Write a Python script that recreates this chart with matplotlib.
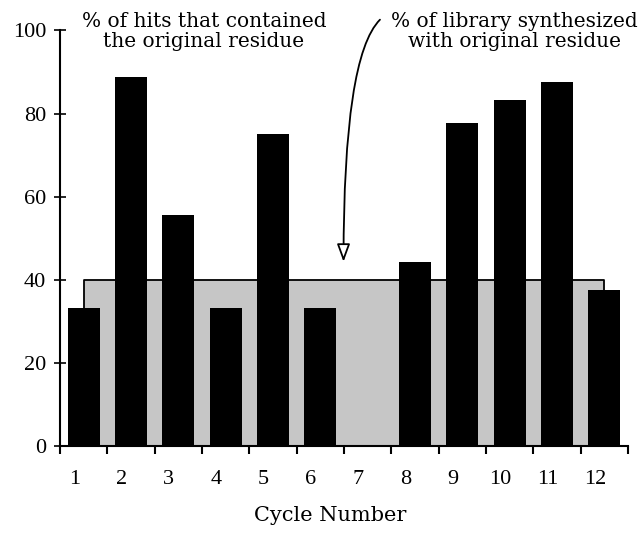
import numpy as np
import matplotlib
matplotlib.use('Agg')
import matplotlib.pyplot as plt

# percent of hits containing the original residue, per cycle (no data for cycle 7)
cycles = [1, 2, 3, 4, 5, 6, 8, 9, 10, 11, 12]
hit_pct = [33.3, 88.9, 55.6, 33.3, 75.0, 33.3, 44.4, 77.8, 83.3, 87.5, 37.5]

# percent of library synthesized with the original residue
lib_cycles = [1, 12]
lib_pct = [40, 40]

cycle_labels = [str(c) for c in range(1, 13)]
y_ticks = [0, 20, 40, 60, 80, 100]

tick_font = ['Liberation Serif', 'DejaVu Serif']
text_font = ['DejaVu Serif']

fig = plt.figure(figsize=(6.4, 5.33), dpi=100)
ax = fig.add_axes([0.09375, 0.1623, 0.8875, 0.7805])

ax.fill_between(lib_cycles, 0, lib_pct, facecolor='#c6c6c6', edgecolor='black',
                linewidth=1.3, zorder=1)
ax.bar(cycles, hit_pct, width=0.68, color='black', zorder=2)

ax.set_xlim(0.5, 12.5)
ax.set_ylim(0, 100)

for side in ['top', 'right']:
    ax.spines[side].set_visible(False)
for side in ['left', 'bottom']:
    ax.spines[side].set_linewidth(1.5)

# tick marks on bin boundaries, labels under each bin
ax.set_xticks(np.arange(0.5, 13, 1))
ax.set_xticklabels([])
ax.set_xticks(np.arange(1, 13) - 0.2, minor=True)
ax.set_xticklabels(cycle_labels, minor=True, fontsize=16, family=tick_font)
ax.tick_params(axis='x', which='major', direction='out', length=6, width=1.5)
ax.tick_params(axis='x', which='minor', length=0, pad=17)

ax.set_yticks(y_ticks)
ax.set_yticklabels([str(v) for v in y_ticks], fontsize=16, family=tick_font)
ax.tick_params(axis='y', direction='inout', length=8, width=1.2, pad=6)

ax.set_xlabel('Cycle Number', fontsize=15, family=text_font)
ax.xaxis.set_label_coords(0.475, -0.142)

ax.text(3.54, 99.7, '% of hits that contained\nthe original residue',
        ha='center', va='center', fontsize=14.5, family=text_font,
        linespacing=1.1, clip_on=False)
ax.text(10.1, 99.7, '% of library synthesized\nwith original residue',
        ha='center', va='center', fontsize=14.5, family=text_font,
        linespacing=1.1, clip_on=False)

ax.annotate('', xy=(6.49, 44.4), xytext=(7.26, 102.6),
            arrowprops=dict(arrowstyle='-|>,head_length=0.9,head_width=0.33',
                            facecolor='white', edgecolor='black', lw=1.3,
                            connectionstyle='angle3,angleA=45,angleB=90',
                            mutation_scale=12, shrinkA=0, shrinkB=0),
            annotation_clip=False)

fig.savefig('out.png', dpi=100)
